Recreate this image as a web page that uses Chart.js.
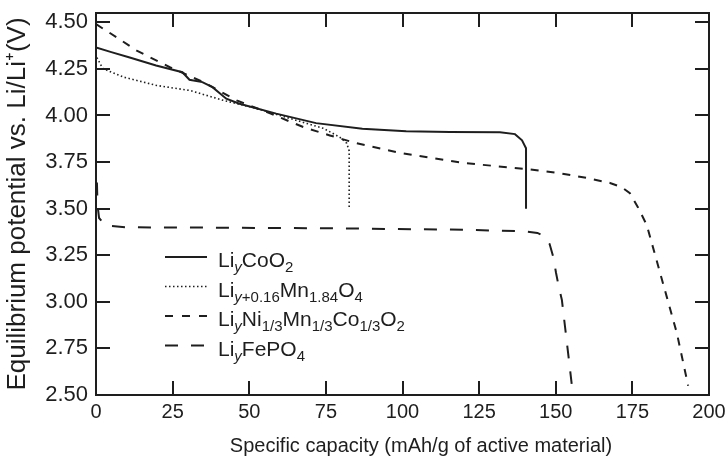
<!DOCTYPE html>
<html>
<head>
<meta charset="utf-8">
<script src="https://cdn.jsdelivr.net/npm/chart.js@4.4.1/dist/chart.umd.min.js"></script>
<style>
    html, body { margin: 0; padding: 0; background: #fff; }
    #wrap { width: 728px; height: 468px; }
</style>
</head>
<body>
<div id="wrap"><canvas id="chart" width="728" height="468"></canvas></div>
<script>
const xTicks = [0, 25, 50, 75, 100, 125, 150, 175, 200];
const yTicks = [2.50, 2.75, 3.00, 3.25, 3.50, 3.75, 4.00, 4.25, 4.50];
const xTitle = 'Specific capacity (mAh/g of active material)';
const yTitle = 'Equilibrium potential vs. Li/Li⁺(V)';

// LiyCoO2
const coX = [0, 5, 11, 19.6, 28.2, 30.5, 34.7, 38.0, 42.5, 46.8, 58.8, 71.8, 86.9, 101.2, 115.5, 131.8, 136.7, 139, 140.3, 140.3];
const coY = [4.365, 4.34, 4.311, 4.268, 4.232, 4.192, 4.179, 4.152, 4.090, 4.063, 4.010, 3.959, 3.929, 3.916, 3.912, 3.91, 3.90, 3.867, 3.824, 3.50];
// Liy+0.16Mn1.84O4
const mnX = [0.3, 2.2, 9, 19.8, 30.7, 41.6, 52.4, 63.3, 74.2, 79.6, 81.8, 82.6, 82.6];
const mnY = [4.311, 4.252, 4.206, 4.161, 4.134, 4.081, 4.038, 3.984, 3.931, 3.883, 3.851, 3.81, 3.50];
// LiyNi1/3Mn1/3Co1/3O2
const nmX = [0, 6.7, 13.3, 24.1, 35, 45.9, 56.8, 67.6, 76.3, 85, 99.2, 119.8, 141.6, 151.4, 160, 167.7, 171.5, 174.2, 176.8, 179.7, 186.2, 189.5, 193.2];
const nmY = [4.49, 4.42, 4.348, 4.259, 4.179, 4.081, 4.011, 3.938, 3.893, 3.851, 3.799, 3.745, 3.711, 3.690, 3.665, 3.638, 3.615, 3.583, 3.508, 3.412, 3.028, 2.833, 2.55];
// LiyFePO4
const lfX = [0.3, 0.5, 1, 3, 10, 40, 80, 120, 140, 144, 146.5, 148, 149.2, 150.1, 151, 152, 153.5, 155.2];
const lfY = [3.64, 3.52, 3.45, 3.41, 3.40, 3.398, 3.394, 3.387, 3.378, 3.37, 3.35, 3.31, 3.24, 3.155, 3.08, 3.01, 2.80, 2.56];

const INK = '#1e1e1e';
const FONT = '"Liberation Sans", Arial, sans-serif';

function points(xs, ys) {
    return xs.map((x, i) => ({ x: x, y: ys[i] }));
}

function series(xs, ys, dash, width) {
    return {
        data: points(xs, ys),
        borderColor: INK,
        borderWidth: width,
        borderDash: dash,
        pointRadius: 0,
        tension: 0,
        fill: false
    };
}

// legend entries: each label is a list of text runs (sub = subscript, it = italic)
const legendItems = [
    { dash: [], width: 2, runs: [{ t: 'Li' }, { t: 'y', sub: 1, it: 1 }, { t: 'CoO' }, { t: '2', sub: 1 }] },
    { dash: [1.5, 2.5], width: 1.6, runs: [{ t: 'Li' }, { t: 'y', sub: 1, it: 1 }, { t: '+0.16', sub: 1 }, { t: 'Mn' }, { t: '1.84', sub: 1 }, { t: 'O' }, { t: '4', sub: 1 }] },
    { dash: [8, 9], width: 2, runs: [{ t: 'Li' }, { t: 'y', sub: 1, it: 1 }, { t: 'Ni' }, { t: '1/3', sub: 1 }, { t: 'Mn' }, { t: '1/3', sub: 1 }, { t: 'Co' }, { t: '1/3', sub: 1 }, { t: 'O' }, { t: '2', sub: 1 }] },
    { dash: [13, 13], width: 2, runs: [{ t: 'Li' }, { t: 'y', sub: 1, it: 1 }, { t: 'FePO' }, { t: '4', sub: 1 }] }
];

const legendPlugin = {
    id: 'richLegend',
    afterDraw(chart) {
        const ctx = chart.ctx;
        ctx.save();
        legendItems.forEach((item, i) => {
            const y = 257 + i * 29.5;
            ctx.strokeStyle = INK;
            ctx.lineWidth = item.width;
            ctx.setLineDash(item.dash);
            ctx.beginPath();
            ctx.moveTo(165, y);
            ctx.lineTo(207, y);
            ctx.stroke();
            ctx.setLineDash([]);
            ctx.fillStyle = INK;
            ctx.textBaseline = 'alphabetic';
            let x = 218;
            item.runs.forEach(r => {
                ctx.font = `${r.it ? 'italic ' : ''}${r.sub ? 15 : 21}px ${FONT}`;
                ctx.fillText(r.t, x, y + 10 + (r.sub ? 5 : 0));
                x += ctx.measureText(r.t).width;
            });
        });

        // x axis title sits a little right of the plot centre in the original
        ctx.font = `20px ${FONT}`;
        ctx.textAlign = 'center';
        ctx.textBaseline = 'middle';
        ctx.fillText(xTitle, 421, 446);
        ctx.restore();
    }
};

// box around the plot and inward ticks on all four sides
const framePlugin = {
    id: 'frame',
    afterDatasetsDraw(chart) {
        const ctx = chart.ctx;
        const a = chart.chartArea;
        const xs = chart.scales.x;
        const ys = chart.scales.y;
        const len = 14;
        ctx.save();
        ctx.strokeStyle = INK;
        ctx.lineWidth = 2;
        ctx.setLineDash([]);
        ctx.strokeRect(a.left, a.top, a.right - a.left, a.bottom - a.top);
        ctx.beginPath();
        xTicks.forEach(v => {
            const px = Math.round(xs.getPixelForValue(v));
            ctx.moveTo(px, a.bottom); ctx.lineTo(px, a.bottom - len);
            ctx.moveTo(px, a.top); ctx.lineTo(px, a.top + len);
        });
        yTicks.forEach(v => {
            const py = Math.round(ys.getPixelForValue(v));
            ctx.moveTo(a.left, py); ctx.lineTo(a.left + len, py);
            ctx.moveTo(a.right, py); ctx.lineTo(a.right - len, py);
        });
        ctx.stroke();
        ctx.restore();
    }
};

const ctx = document.getElementById('chart').getContext('2d');
new Chart(ctx, {
    type: 'line',
    data: {
        datasets: [
            series(coX, coY, [], 2),
            series(mnX, mnY, [1.5, 2.5], 1.6),
            series(nmX, nmY, [8, 8], 2),
            series(lfX, lfY, [13, 13], 2)
        ]
    },
    options: {
        responsive: false,
        animation: false,
        devicePixelRatio: 1,
        parsing: false,
        layout: { padding: { top: 13, right: 19, left: 0, bottom: 0 } },
        plugins: { legend: { display: false }, tooltip: { enabled: false } },
        scales: {
            x: {
                type: 'linear',
                min: 0,
                max: 200,
                afterBuildTicks: s => { s.ticks = xTicks.map(v => ({ value: v })); },
                afterFit: s => { s.height = 73; s.paddingLeft = 0; s.paddingRight = 0; },
                grid: { display: false, drawTicks: false },
                border: { display: false },
                ticks: { color: INK, font: { family: FONT, size: 20 }, padding: 5, maxRotation: 0, autoSkip: false }
            },
            y: {
                type: 'linear',
                min: 2.5,
                max: 4.55,
                afterBuildTicks: s => { s.ticks = yTicks.map(v => ({ value: v })); },
                afterFit: s => { s.width = 96; s.paddingTop = 0; s.paddingBottom = 0; },
                grid: { display: false, drawTicks: false },
                border: { display: false },
                ticks: { color: INK, font: { family: FONT, size: 22 }, padding: 8, callback: v => v.toFixed(2) },
                title: { display: true, text: yTitle, color: INK, font: { family: FONT, size: 26 }, padding: { top: 2, bottom: 0 } }
            }
        }
    },
    plugins: [legendPlugin, framePlugin]
});
</script>
</body>
</html>
